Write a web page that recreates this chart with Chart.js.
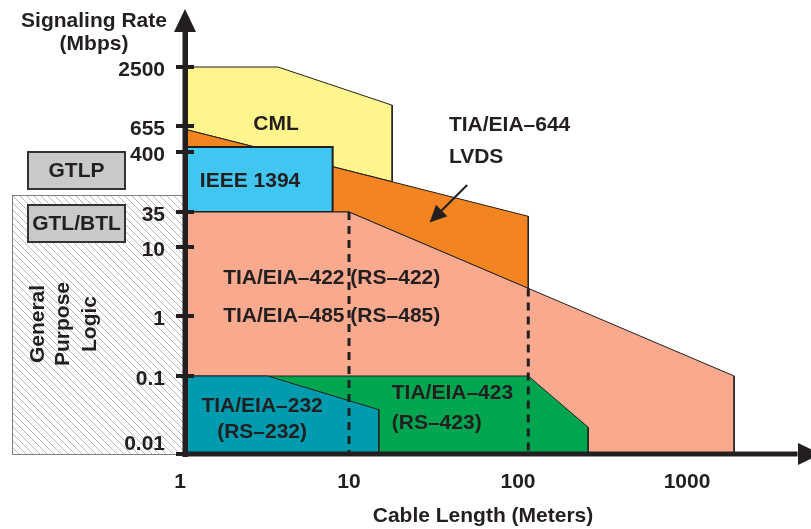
<!DOCTYPE html>
<html lang="en">
<head>
<meta charset="UTF-8">
<title>Signaling Rate vs Cable Length</title>
<script src="https://cdn.jsdelivr.net/npm/chart.js"></script>
<style>
  html, body { margin: 0; padding: 0; background: #fff; }
  #wrap { width: 811px; height: 529px; }
</style>
</head>
<body>
<div id="wrap"><canvas id="chart" width="811" height="529"></canvas></div>
<script>
  // axis ticks
  const rateTicks = [0.01, 0.1, 1, 10, 35, 400, 655, 2500];
  const rateLevels = [0, 78, 138, 207, 242, 302, 328, 387];
  const lengthTicks = [1, 10, 100, 1000];

  // regions (cable length in m, signaling rate in Mbps)
  const cmlLength = [1, 3.8, 18, 18, 1];
  const cmlRate = [2500, 2500, 1050, 120, 630];
  const lvdsLength = [1, 115, 115, 10, 1];
  const lvdsRate = [630, 30, 2.5, 35, 35];
  const ieeeLength = [1, 8, 8, 1];
  const ieeeRate = [440, 440, 35, 35];
  const rs422Length = [1, 10, 1900, 1900, 1];
  const rs422Rate = [35, 35, 0.1, 0.01, 0.01];
  const rs423Length = [1, 115, 260, 260, 1];
  const rs423Rate = [0.1, 0.1, 0.022, 0.01, 0.01];
  const rs232Length = [1, 3.3, 15, 15, 1];
  const rs232Rate = [0.1, 0.1, 0.037, 0.01, 0.01];

  // dashed limits
  const dashLength = [10, 115];
  const dashTopRate = [35, 2.5];

  const ink = '#231F20';
  const font = 'bold 21px "Liberation Sans", Arial, sans-serif';

  // rate axis is not a plain log scale: interpolate log between the printed ticks
  function toLevel(v) {
    const n = rateTicks.length;
    for (let i = 0; i < n - 1; i++) {
      if (v <= rateTicks[i + 1] || i === n - 2) {
        const a = Math.log10(rateTicks[i]), b = Math.log10(rateTicks[i + 1]);
        const t = (Math.log10(v) - a) / (b - a);
        return rateLevels[i] + t * (rateLevels[i + 1] - rateLevels[i]);
      }
    }
  }

  function region(xs, ys, color, order, bw) {
    return {
      data: xs.map((x, i) => ({ x: x, y: toLevel(ys[i]) })),
      backgroundColor: color,
      borderColor: ink,
      borderWidth: bw || 1,
      fill: 'shape',
      pointRadius: 0,
      tension: 0,
      order: order
    };
  }

  const datasets = [
    region(cmlLength, cmlRate, '#FFF58C', 7),
    region(lvdsLength, lvdsRate, '#F28422', 6),
    region(ieeeLength, ieeeRate, '#41C5F1', 5, 2),
    region(rs422Length, rs422Rate, '#F8A98E', 4),
    region(rs423Length, rs423Rate, '#00A550', 3),
    region(rs232Length, rs232Rate, '#009BAF', 2)
  ];
  dashLength.forEach((len, i) => {
    datasets.push({
      data: [{ x: len, y: toLevel(dashTopRate[i]) }, { x: len, y: 0 }],
      borderColor: ink,
      borderWidth: 3,
      borderDash: [8, 6],
      fill: false,
      pointRadius: 0,
      order: 1
    });
  });

  // labels inside the plot, placed at (length, rate)
  const regionLabels = [
    { text: 'CML', x: 3.7, y: 685, align: 'center' },
    { text: 'TIA/EIA–644', x: 39, y: 661, align: 'left' },
    { text: 'LVDS', x: 39, y: 326, align: 'left' },
    { text: 'IEEE 1394', x: 1.31, y: 121, align: 'left' },
    { text: 'TIA/EIA–422 (RS–422)', x: 1.8, y: 3.56, align: 'left' },
    { text: 'TIA/EIA–485 (RS–485)', x: 1.8, y: 1.0, align: 'left' },
    { text: 'TIA/EIA–232', x: 3.06, y: 0.0412, align: 'center' },
    { text: '(RS–232)', x: 3.06, y: 0.0191, align: 'center' },
    { text: 'TIA/EIA–423', x: 17.9, y: 0.0605, align: 'left' },
    { text: '(RS–423)', x: 17.9, y: 0.025, align: 'left' }
  ];
  const lvdsArrowFrom = [50, 105];
  const lvdsArrowTo = [30, 24];

  const decor = {
    id: 'decor',
    beforeDraw(chart) {
      const ctx = chart.ctx;
      ctx.save();
      ctx.fillStyle = '#fff';
      ctx.fillRect(0, 0, chart.width, chart.height);

      // general purpose logic hatched box
      const hx = 12, hy = 195, hw = 172, hh = 259;
      ctx.save();
      ctx.beginPath();
      ctx.rect(hx, hy, hw, hh);
      ctx.clip();
      ctx.strokeStyle = '#B8B8B8';
      ctx.lineWidth = 1;
      for (let x = hx - hh; x < hx + hw; x += 7) {
        ctx.beginPath();
        ctx.moveTo(x, hy);
        ctx.lineTo(x + hh, hy + hh);
        ctx.stroke();
      }
      ctx.restore();
      ctx.strokeStyle = '#808080';
      ctx.lineWidth = 1;
      ctx.strokeRect(hx + 0.5, hy + 0.5, hw, hh);

      // GTLP and GTL/BTL boxes
      [['GTLP', 152], ['GTL/BTL', 205]].forEach(([t, y]) => {
        ctx.fillStyle = '#C8C9CB';
        ctx.fillRect(28, y, 97, 37);
        ctx.strokeStyle = '#333';
        ctx.lineWidth = 2;
        ctx.strokeRect(28, y, 97, 37);
        ctx.fillStyle = ink;
        ctx.font = font;
        ctx.textAlign = 'center';
        ctx.textBaseline = 'middle';
        ctx.fillText(t, 76.5, y + 19);
      });

      // rotated caption
      ctx.save();
      ctx.translate(64, 324);
      ctx.rotate(-Math.PI / 2);
      ctx.fillStyle = ink;
      ctx.font = font;
      ctx.textAlign = 'center';
      ctx.textBaseline = 'middle';
      ctx.fillText('General', 0, -26);
      ctx.fillText('Purpose', 0, -1);
      ctx.fillText('Logic', 0, 26);
      ctx.restore();

      // y axis title
      ctx.fillStyle = ink;
      ctx.font = font;
      ctx.textAlign = 'center';
      ctx.textBaseline = 'middle';
      ctx.fillText('Signaling Rate', 94, 21);
      ctx.fillText('(Mbps)', 94, 44);
      ctx.restore();
    },
    afterDatasetsDraw(chart) {
      const ctx = chart.ctx;
      const xs = chart.scales.x, ys = chart.scales.y;
      const px = v => xs.getPixelForValue(v);
      const py = v => ys.getPixelForValue(toLevel(v));
      ctx.save();
      ctx.fillStyle = ink;
      ctx.font = font;
      ctx.textBaseline = 'middle';
      regionLabels.forEach(l => {
        ctx.textAlign = l.align;
        ctx.fillText(l.text, px(l.x), py(l.y));
      });

      // LVDS pointer
      const x0 = px(lvdsArrowFrom[0]), y0 = py(lvdsArrowFrom[1]);
      const x1 = px(lvdsArrowTo[0]), y1 = py(lvdsArrowTo[1]);
      const ang = Math.atan2(y1 - y0, x1 - x0);
      const head = 17, half = 8;
      const bx = x1 - head * Math.cos(ang), by = y1 - head * Math.sin(ang);
      ctx.strokeStyle = ink;
      ctx.lineWidth = 2;
      ctx.beginPath();
      ctx.moveTo(x0, y0);
      ctx.lineTo(bx, by);
      ctx.stroke();
      ctx.beginPath();
      ctx.moveTo(x1, y1);
      ctx.lineTo(bx + half * Math.sin(ang), by - half * Math.cos(ang));
      ctx.lineTo(bx - half * Math.sin(ang), by + half * Math.cos(ang));
      ctx.closePath();
      ctx.fill();

      // axes with arrows
      const ax = chart.chartArea.left - 1, ay = chart.chartArea.bottom;
      ctx.fillRect(ax - 2.5, 30, 5.5, ay - 30 + 3);
      ctx.beginPath();
      ctx.moveTo(ax, 9);
      ctx.lineTo(ax - 11, 32);
      ctx.lineTo(ax + 11, 32);
      ctx.closePath();
      ctx.fill();
      ctx.fillRect(ax - 2.5, ay - 2.5, 800 - ax, 5);
      ctx.beginPath();
      ctx.moveTo(821, ay);
      ctx.lineTo(798, ay - 11);
      ctx.lineTo(798, ay + 11);
      ctx.closePath();
      ctx.fill();
      rateLevels.forEach(l => {
        const y = ys.getPixelForValue(l);
        ctx.fillRect(ax - 9, y - 2, 18, 4);
      });
      ctx.restore();
    }
  };

  new Chart(document.getElementById('chart'), {
    type: 'line',
    data: { datasets: datasets },
    options: {
      responsive: false,
      animation: false,
      events: [],
      layout: { padding: { left: 0, right: 31, top: 22, bottom: 0 } },
      plugins: {
        legend: { display: false },
        tooltip: { enabled: false }
      },
      scales: {
        x: {
          type: 'logarithmic',
          min: 1.085,
          max: 3550,
          afterBuildTicks: s => { s.ticks = lengthTicks.map(v => ({ value: v })); },
          afterFit: s => { s.height = 75; s.paddingLeft = 0; s.paddingRight = 0; },
          grid: { display: false, drawTicks: false },
          border: { display: false },
          ticks: {
            autoSkip: false,
            maxRotation: 0,
            padding: 16,
            color: ink,
            font: { family: '"Liberation Sans", Arial, sans-serif', size: 21, weight: 'bold' },
            callback: (v, i) => String(lengthTicks[i])
          },
          title: {
            display: true,
            text: 'Cable Length (Meters)',
            color: ink,
            padding: { top: 0, bottom: 0 },
            font: { family: '"Liberation Sans", Arial, sans-serif', size: 21, weight: 'bold' }
          }
        },
        y: {
          type: 'linear',
          min: 0,
          max: 432,
          afterBuildTicks: s => { s.ticks = rateLevels.map(v => ({ value: v })); },
          afterFit: s => { s.width = 186; s.paddingTop = 0; s.paddingBottom = 0; },
          grid: { display: false, drawTicks: false },
          border: { display: false },
          ticks: {
            autoSkip: false,
            padding: 21,
            labelOffset: 3,
            color: ink,
            font: { family: '"Liberation Sans", Arial, sans-serif', size: 21, weight: 'bold' },
            callback: (v, i) => i === 0 ? [String(rateTicks[i]), ''] : String(rateTicks[i])
          }
        }
      }
    },
    plugins: [decor]
  });
</script>
</body>
</html>
